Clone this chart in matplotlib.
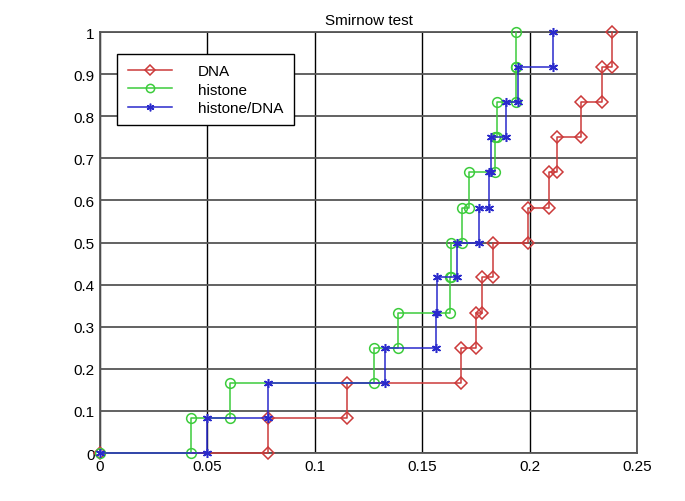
import matplotlib
matplotlib.use("Agg")
import matplotlib.pyplot as plt
import numpy as np

plt.rcParams['font.family'] = ['Liberation Sans', 'DejaVu Sans']

# empirical CDF levels (12 samples per group)
levels = [0, 0.083, 0.167, 0.25, 0.333, 0.417, 0.5, 0.583, 0.667, 0.75, 0.833, 0.917, 1.0]

# sorted sample values, first point is the origin
dna = [0, 0.0781, 0.1148, 0.1679, 0.1749, 0.1780, 0.1831, 0.1994, 0.2090, 0.2126, 0.2239, 0.2335, 0.2382]
histone = [0, 0.0424, 0.0605, 0.1276, 0.1386, 0.1627, 0.1634, 0.1687, 0.1718, 0.1839, 0.1848, 0.1935, 0.1937]
ratio = [0, 0.0499, 0.0781, 0.1327, 0.1563, 0.1569, 0.1664, 0.1764, 0.1813, 0.1819, 0.1890, 0.1946, 0.2110]

names = ["DNA", "histone", "histone/DNA"]
colors = ["#cc3a3a", "#3ccc3c", "#2a2acc"]
markers = ["D", "o", (6, 2, 0)]
msizes = [6, 7, 6.5]


def stairs(x, y):
    # corner points like matlab stairs()
    x = np.asarray(x)
    y = np.asarray(y)
    xx = np.repeat(x, 2)[1:]
    yy = np.repeat(y, 2)[:-1]
    return xx, yy


fig = plt.figure(figsize=(6.85, 5.02), dpi=100)
ax = fig.add_axes([0.146, 0.0956, 0.784, 0.8386])

for data, name, c, m, ms in zip([dna, histone, ratio], names, colors, markers, msizes):
    xx, yy = stairs(data, levels)
    ax.plot(xx, yy, color=c, lw=1.1, marker=m, ms=ms, mfc='none', mec=c, mew=1.1,
            label=name, clip_on=False, zorder=3)

ax.set_xlim(0, 0.25)
ax.set_ylim(0, 1)
ax.set_xticks([0, 0.05, 0.1, 0.15, 0.2, 0.25])
ax.set_xticklabels(["0", "0.05", "0.1", "0.15", "0.2", "0.25"])
ax.set_yticks(np.linspace(0, 1, 11))
ax.set_yticklabels(["0", "0.1", "0.2", "0.3", "0.4", "0.5", "0.6", "0.7", "0.8", "0.9", "1"])
ax.tick_params(direction='in', length=0, labelsize=11, pad=4)

ax.xaxis.grid(True, color='black', lw=1.0)
ax.yaxis.grid(True, color='#555555', lw=1.3)
ax.set_axisbelow(True)
for s in ax.spines.values():
    s.set_color('#555555')
    s.set_linewidth(1.3)

ax.set_title("Smirnow test", fontsize=11, pad=6)

leg = ax.legend(loc='upper left', bbox_to_anchor=(0.032, 0.948), borderaxespad=0,
                fancybox=False, edgecolor='black', framealpha=1, fontsize=11,
                handlelength=2.9, handletextpad=1.7, labelspacing=0.28,
                borderpad=0.68, markerscale=0.85)
leg.get_frame().set_linewidth(1.0)
leg.set_zorder(5)

fig.savefig("out.png", dpi=100)
